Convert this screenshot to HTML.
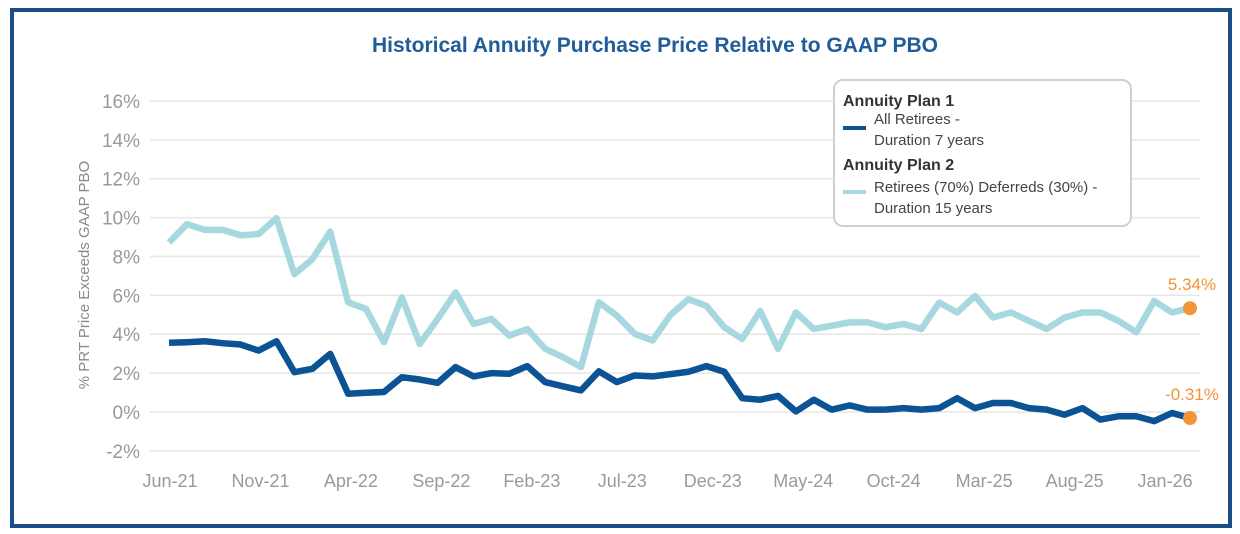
<!DOCTYPE html>
<html><head><meta charset="utf-8"><style>
body{margin:0;background:#fff;font-family:"Liberation Sans",sans-serif}
#frame{position:absolute;left:10px;top:8px;width:1214px;height:512px;border:4px solid #1d4f86;}
</style></head><body>
<div id="frame"></div>
<svg width="1240" height="534" style="position:absolute;left:0;top:0" id="chart">
<text x="655" y="52" text-anchor="middle" font-size="21" font-weight="bold" fill="#1f5c99">Historical Annuity Purchase Price Relative to GAAP PBO</text>
<text transform="translate(89,275) rotate(-90)" text-anchor="middle" font-size="15" fill="#8a8a8a">% PRT Price Exceeds GAAP PBO</text>
<g id="grid"></g><g id="series"></g>
<g>
<rect x="834" y="80" width="297" height="146" rx="9" fill="#fff" stroke="#d0d0d0" stroke-width="2"/>
<text x="843" y="106" font-size="16" font-weight="bold" fill="#333">Annuity Plan 1</text>
<line x1="843" y1="128" x2="866" y2="128" stroke="#0b5394" stroke-width="4"/>
<text x="874" y="124" font-size="15" fill="#444">All Retirees -</text>
<text x="874" y="145" font-size="15" fill="#444">Duration 7 years</text>
<text x="843" y="170" font-size="16" font-weight="bold" fill="#333">Annuity Plan 2</text>
<line x1="843" y1="192" x2="866" y2="192" stroke="#a8d8df" stroke-width="4"/>
<text x="874" y="192" font-size="15" fill="#444">Retirees (70%) Deferreds (30%) -</text>
<text x="874" y="213" font-size="15" fill="#444">Duration 15 years</text>
</g>
</svg>
<script>
const yTicks=[-2,0,2,4,6,8,10,12,14,16];
const xLabels=["Jun-21","Nov-21","Apr-22","Sep-22","Feb-23","Jul-23","Dec-23","May-24","Oct-24","Mar-25","Aug-25","Jan-26"];
const plan1=[3.56,3.59,3.64,3.54,3.47,3.16,3.64,2.05,2.22,2.99,0.94,0.99,1.03,1.79,1.67,1.5,2.31,1.83,2.0,1.97,2.36,1.54,1.32,1.11,2.09,1.54,1.88,1.83,1.95,2.07,2.36,2.07,0.71,0.63,0.83,0.03,0.63,0.12,0.34,0.12,0.12,0.2,0.12,0.2,0.71,0.2,0.46,0.46,0.2,0.12,-0.14,0.2,-0.39,-0.22,-0.22,-0.47,-0.05,-0.31];
const plan2=[8.72,9.66,9.37,9.37,9.09,9.15,9.97,7.09,7.86,9.28,5.64,5.3,3.59,5.9,3.5,4.79,6.15,4.53,4.79,3.93,4.27,3.25,2.82,2.31,5.64,4.96,4.02,3.68,5.0,5.8,5.46,4.36,3.76,5.2,3.25,5.12,4.27,4.44,4.61,4.61,4.36,4.53,4.27,5.63,5.12,5.97,4.86,5.12,4.69,4.27,4.86,5.12,5.12,4.69,4.1,5.71,5.12,5.34];
const NS="http://www.w3.org/2000/svg";
const x=i=>169+i*(1190-169)/57;
const y=v=>412-v*19.44;
const grid=document.getElementById('grid'),ser=document.getElementById('series');
function mk(tag,attrs,parent){const e=document.createElementNS(NS,tag);for(const k in attrs)e.setAttribute(k,attrs[k]);parent.appendChild(e);return e;}
yTicks.forEach(t=>{
 const l=mk('line',{x1:150,x2:1200,y1:y(t),y2:y(t),stroke:'#e6e6e6','stroke-width':1.5},grid);
 
 
 const tx=mk('text',{x:140,y:y(t)+7,'text-anchor':'end','font-size':19,fill:'#9a9a9a'},grid);
 tx.textContent=t+'%';
 
 
});
xLabels.forEach((s,k)=>{
 const tx=mk('text',{x:x(k*5)+1+k*0.9,y:487,'text-anchor':'middle','font-size':18,fill:'#9a9a9a'},grid);
 tx.textContent=s;
 
 
});
function line(data,color,name){
 const p=mk('polyline',{points:data.map((v,i)=>x(i)+','+y(v)).join(' '),fill:'none',stroke:color,'stroke-width':6.5,'stroke-linejoin':'round'},ser);
 
 
 const n=data.length-1;
 const c=mk('circle',{cx:x(n),cy:y(data[n]),r:7,fill:'#f39437'},ser);
 
 
 const t=mk('text',{x:x(n)+2,y:y(data[n])-18,'text-anchor':'middle','font-size':17,fill:'#f39437'},ser);
 t.textContent=data[n].toFixed(2)+'%';
 
 
}
line(plan2,'#a8d8df','plan-2-line');
line(plan1,'#0b5394','plan-1-line');
</script>
</body></html>
